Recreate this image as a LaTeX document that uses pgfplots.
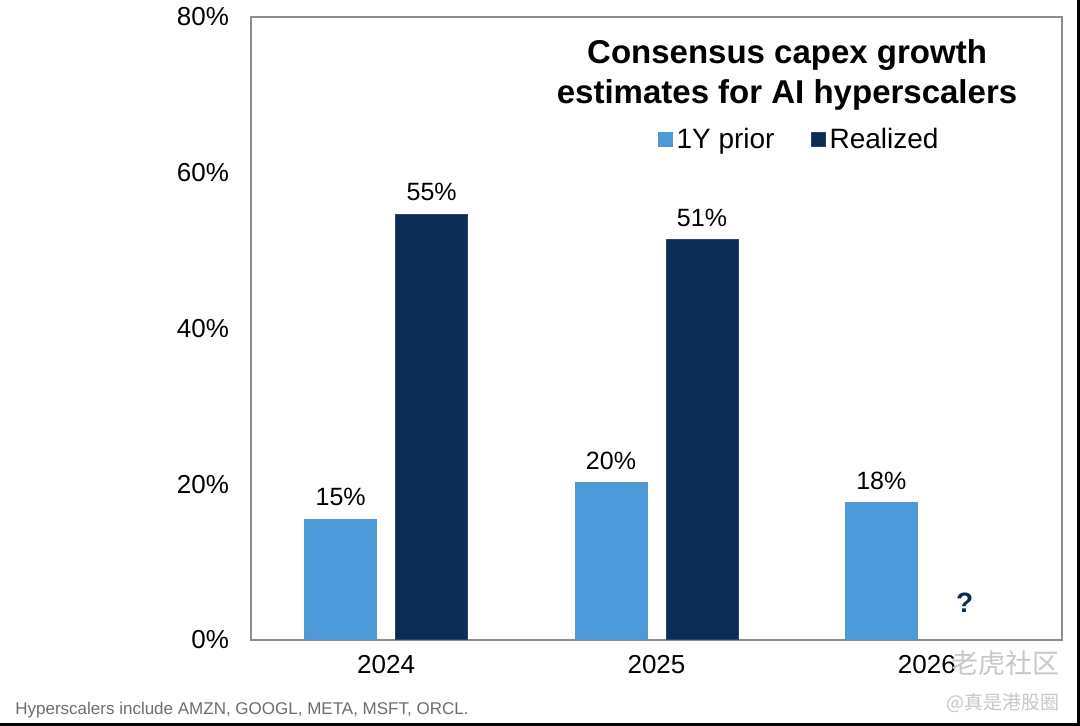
\documentclass[border=0pt]{standalone}
\usepackage{pgfplots}
\pgfplotsset{compat=1.18}
\usepackage{fontspec}
\setmainfont{Liberation Sans}
\newfontfamily\cjk{Noto Sans CJK SC}

\definecolor{priorblue}{HTML}{4E9BDC}
\definecolor{realnavy}{HTML}{0B2C54}
\definecolor{boxgrey}{HTML}{8C8C8C}
\definecolor{notegrey}{HTML}{6E6E6E}
\definecolor{wmgrey}{HTML}{C8C8C8}

\begin{document}
\begin{tikzpicture}
% page frame: 1080x726 px at 0.5pt per px, axis box lower left at origin
\useasboundingbox[fill=white] (-125.5pt,-43pt) rectangle (414.5pt,320pt);
\fill[black] (-125.5pt,-43pt) rectangle (414.5pt,-41.5pt);
\fill[black] (413pt,-43pt) rectangle (414.5pt,320pt);

\begin{axis}[
    at={(0,0)}, anchor=south west,
    scale only axis,
    width=405.5pt, height=311.5pt,
    ybar=9.5pt, bar width=36pt,
    xmin=-0.5, xmax=2.5,
    ymin=0, ymax=80,
    xtick={0,1,2}, xticklabels={2024,2025,2026},
    ytick={0,20,40,60,80},
    yticklabel={\pgfmathprintnumber[fixed,precision=0]{\tick}\%},
    /pgf/number format/assume math mode=true,
    major tick length=0pt,
    axis line style={boxgrey, line width=0.9pt},
    tick label style={font=\fontsize{13}{15}\selectfont},
    yticklabel style={xshift=-7.5pt},
    xticklabel style={yshift=-4pt},
    point meta=explicit symbolic,
    nodes near coords={\pgfplotspointmeta\%},
    every node near coord/.append style={font=\fontsize{12.5}{14}\selectfont, black, yshift=3pt},
    legend style={at={(rel axis cs:0.677,0.803)}, anchor=center, draw=none, fill=none,
        font=\fontsize{14}{16}\selectfont, legend columns=2,
        /tikz/every even column/.append style={column sep=16pt}},
    legend image code/.code={\fill[#1] (0pt,-3.5pt) rectangle (7pt,3.5pt);},
    clip=false,
]
\addplot[fill=priorblue, draw=priorblue!70!gray, line width=0.5pt]
    coordinates {(0,15.5) [15] (1,20.2) [20] (2,17.6) [18]};
\addlegendentry{1Y prior}
\addplot[fill=realnavy, draw=realnavy!70!gray, line width=0.5pt]
    coordinates {(0,54.7) [55] (1,51.4) [51]};
\addlegendentry{Realized}

\node[align=center, font=\bfseries\fontsize{16.5}{20}\selectfont]
    at (rel axis cs:0.661,0.907) {Consensus capex growth\\estimates for AI hyperscalers};
\node[font=\bfseries\fontsize{14}{16}\selectfont, text=realnavy]
    at (axis cs:2.14,4.75) {?};
\end{axis}

\node[anchor=west, font=\fontsize{8.5}{10}\selectfont, text=notegrey, inner sep=0pt]
    at (-118pt,-35pt) {Hyperscalers include AMZN, GOOGL, META, MSFT, ORCL.};
\node[font=\cjk\fontsize{13.5}{15}\selectfont, text=wmgrey, inner sep=0pt]
    at (377pt,-11.5pt) {老虎社区};
\node[font=\cjk\fontsize{9.5}{11}\selectfont, text=wmgrey, inner sep=0pt]
    at (376pt,-31.5pt) {@真是港股圈};
\end{tikzpicture}
\end{document}
